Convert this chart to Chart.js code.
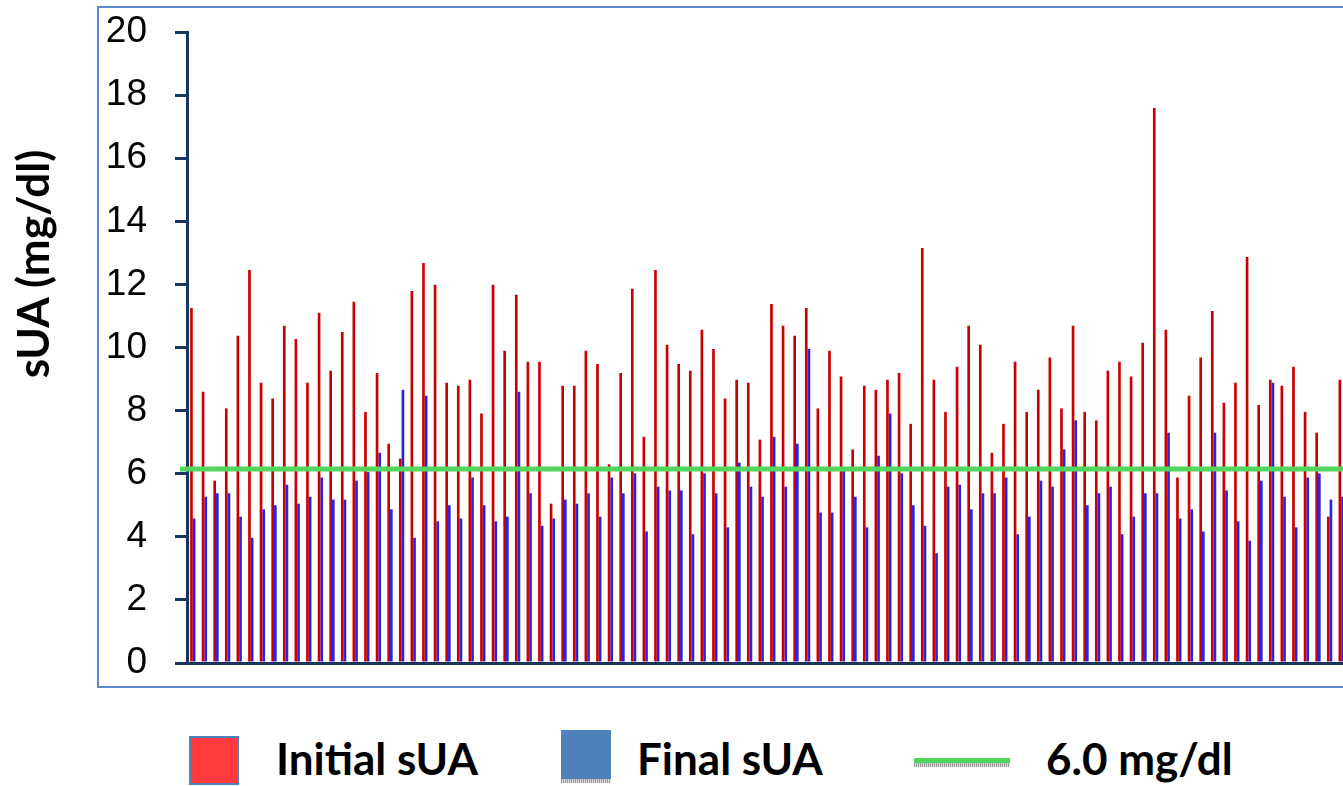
<!DOCTYPE html>
<html lang="en">
<head>
    <meta charset="UTF-8">
    <title>Initial vs final sUA</title>
    <script src="https://cdn.jsdelivr.net/npm/chart.js"></script>
    <style>
        html, body { margin: 0; padding: 0; background: #fff; overflow: hidden; }
        body { width: 1343px; height: 786px; position: relative; }
        .frame {
            position: absolute; left: 97px; top: 6px;
            width: 1320px; height: 678px;
            border: 2px solid #5a8bc8;
        }
        .wrap { position: absolute; left: 0; top: 0; width: 1360px; height: 700px; }
        .ytitle {
            position: absolute; left: -119px; top: 239px;
            width: 300px; height: 50px; line-height: 50px;
            text-align: center; transform: rotate(-90deg);
            font: bold 44px Lato, "Open Sans", sans-serif; color: #000;
        }
        .legend span { position: absolute; }
        .lg-text {
            font: bold 44px Lato, "Open Sans", sans-serif; line-height: 44px;
            color: #000; top: 736px; white-space: nowrap;
        }
        .box-red {
            left: 189px; top: 736px; width: 46px; height: 45px;
            background: #ff3b3f; border: 2px solid #4f81bd;
        }
        .box-blue { left: 561px; top: 730px; width: 50px; height: 49px; background: #4f81bd; }
        .shadow-blue {
            left: 561px; top: 779px; width: 50px; height: 4px;
            background: repeating-linear-gradient(90deg, #999 0 1px, #ddd 1px 2px);
        }
        .line-green { left: 914px; top: 758px; width: 96px; height: 5px; background: #4fd65a; }
        .shadow-green {
            left: 914px; top: 763px; width: 96px; height: 4px;
            background: repeating-linear-gradient(90deg, #999 0 1px, #ddd 1px 2px);
        }
    </style>
</head>
<body>
<div class="frame"></div>
<div class="wrap"><canvas id="chart" width="1360" height="700"></canvas></div>
<div class="ytitle">sUA (mg/dl)</div>

<div class="legend">
    <span class="box-red"></span>
    <span class="lg-text" style="left:276px">Initial sUA</span>
    <span class="box-blue"></span>
    <span class="shadow-blue"></span>
    <span class="lg-text" style="left:637px">Final sUA</span>
    <span class="line-green"></span>
    <span class="shadow-green"></span>
    <span class="lg-text" style="left:1046px">6.0 mg/dl</span>
</div>

<script>
    // values, one per patient (mg/dl)
    const initialSUA = [
        11.25, 8.60, 5.78, 8.07, 10.37, 12.46, 8.88, 8.38, 10.69, 10.27,
        8.88, 11.10, 9.26, 10.49, 11.45, 7.96, 9.19, 6.95, 6.48, 11.79,
        12.68, 11.99, 8.88, 8.79, 8.98, 7.91, 11.99, 9.90, 11.67, 9.55,
        9.55, 5.05, 8.79, 8.79, 9.90, 9.48, 6.30, 9.19, 11.86, 7.17,
        12.46, 10.09, 9.48, 9.26, 10.56, 9.95, 8.38, 8.98, 8.88, 7.08,
        11.38, 10.69, 10.37, 11.25, 8.07, 9.90, 9.08, 6.77, 8.79, 8.66,
        8.98, 9.19, 7.58, 13.15, 8.98, 7.96, 9.39, 10.69, 10.09, 6.66,
        7.58, 9.55, 7.96, 8.66, 9.68, 8.07, 10.69, 7.96, 7.69, 9.26,
        9.55, 9.08, 10.15, 17.59, 10.56, 5.88, 8.47, 9.68, 11.16, 8.25,
        8.88, 12.87, 8.18, 8.98, 8.79, 9.39, 7.96, 7.30, 4.64, 8.98
    ];
    const finalSUA = [
        4.58, 5.27, 5.38, 5.38, 4.64, 3.97, 4.87, 5.00, 5.65, 5.05,
        5.27, 5.88, 5.18, 5.18, 5.78, 6.05, 6.66, 4.87, 8.66, 3.97,
        8.47, 4.49, 5.00, 4.58, 5.88, 5.00, 4.49, 4.64, 8.60, 5.38,
        4.35, 4.58, 5.18, 5.05, 5.38, 4.64, 5.88, 5.38, 6.01, 4.17,
        5.59, 5.47, 5.47, 4.08, 6.01, 5.38, 4.30, 6.35, 5.59, 5.27,
        7.17, 5.59, 6.95, 9.95, 4.77, 4.77, 6.09, 5.27, 4.30, 6.57,
        7.91, 6.01, 5.00, 4.35, 3.48, 5.59, 5.65, 4.87, 5.38, 5.38,
        5.88, 4.08, 4.64, 5.78, 5.59, 6.77, 7.69, 5.00, 5.38, 5.59,
        4.08, 4.64, 5.38, 5.38, 7.30, 4.58, 4.87, 4.17, 7.30, 5.47,
        4.49, 3.88, 5.78, 8.88, 5.27, 4.30, 5.88, 6.01, 5.18, 5.27
    ];
    const patients = initialSUA.map((_, i) => String(i + 1));
    const yTicks = [0, 2, 4, 6, 8, 10, 12, 14, 16, 18, 20];
    // green reference line, as drawn in the picture
    const refLevel = 6.15;

    const axisColor = '#17375e';

    // horizontal target line over the bars
    const refLinePlugin = {
        id: 'refLine',
        afterDraw(chart) {
            const ctx = chart.ctx;
            const area = chart.chartArea;
            const y = chart.scales.y.getPixelForValue(refLevel);
            ctx.save();
            ctx.strokeStyle = '#52d65c';
            ctx.lineWidth = 5;
            ctx.beginPath();
            ctx.moveTo(area.left - 7, y);
            ctx.lineTo(area.right, y);
            ctx.stroke();
            ctx.restore();
        }
    };

    new Chart(document.getElementById('chart'), {
        type: 'bar',
        data: {
            labels: patients,
            datasets: [{
                label: 'Initial sUA',
                data: initialSUA,
                backgroundColor: '#cc0000'
            }, {
                label: 'Final sUA',
                data: finalSUA,
                backgroundColor: '#2323ea'
            }]
        },
        options: {
            responsive: false,
            animation: false,
            devicePixelRatio: 1,
            // plot box: 187..1347 x 32..663
            layout: { padding: { left: 0, top: 32, right: 13, bottom: 37 } },
            datasets: { bar: { categoryPercentage: 0.46, barPercentage: 1.0 } },
            plugins: {
                legend: { display: false },
                tooltip: { enabled: false }
            },
            scales: {
                x: {
                    ticks: { display: false },
                    grid: { display: false, drawTicks: false },
                    border: { display: true, color: axisColor, width: 3 },
                    afterFit: (scale) => { scale.height = 0; }
                },
                y: {
                    min: 0,
                    max: 20,
                    afterBuildTicks: (scale) => {
                        scale.ticks = yTicks.map(v => ({ value: v }));
                    },
                    ticks: {
                        padding: 28,
                        color: '#000',
                        font: { family: "'Liberation Sans', Arial, sans-serif", size: 37 }
                    },
                    grid: {
                        drawOnChartArea: false,
                        drawTicks: true,
                        tickLength: 12,
                        color: axisColor,
                        lineWidth: 3
                    },
                    border: { display: true, color: axisColor, width: 3 },
                    // label overhang is already covered by the layout padding
                    afterFit: (scale) => {
                        scale.width = 187;
                        scale.paddingTop = 0;
                        scale.paddingBottom = 0;
                    }
                }
            }
        },
        plugins: [refLinePlugin]
    });
</script>
</body>
</html>
